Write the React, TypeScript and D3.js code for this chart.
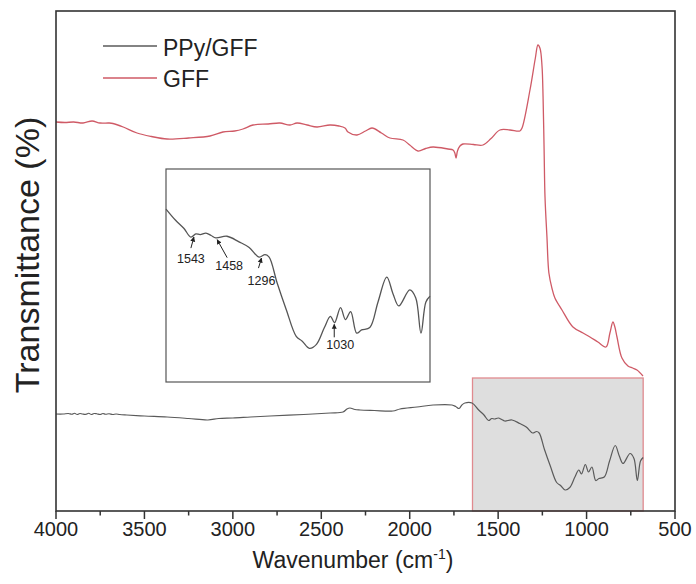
import React from "react";
import * as d3 from "d3";

// ---- data (wavenumber cm^-1, transmittance a.u.) ----
const gffData: [number, number][] = [
  [4000, 77.8], [3950, 77.7], [3900, 77.8], [3847, 77.6], [3796, 78.0], [3751, 77.6], [3700, 77.6],
  [3678, 77.5], [3620, 76.8], [3542, 75.6], [3460, 74.9], [3372, 74.4], [3250, 74.6], [3129, 75.0],
  [3056, 75.8], [2990, 76.0], [2943, 76.4], [2886, 77.2], [2800, 77.4], [2734, 77.6], [2677, 77.2],
  [2637, 77.6], [2580, 77.2], [2524, 76.8], [2451, 77.2], [2400, 77.0], [2366, 76.6], [2349, 75.8],
  [2298, 75.2], [2250, 76.0], [2213, 76.6], [2160, 75.6], [2112, 74.6], [2038, 74.2], [2000, 73.2],
  [1953, 72.0], [1910, 72.5], [1868, 72.8], [1784, 72.4], [1755, 72.2], [1745, 71.6], [1738, 70.6],
  [1730, 72.0], [1716, 73.0], [1699, 73.4], [1640, 73.3], [1586, 73.2], [1540, 74.5], [1490, 76.2],
  [1433, 76.2], [1377, 76.0], [1365, 76.6], [1320, 84.2], [1290, 90.5], [1275, 93.2], [1263, 92.5],
  [1252, 89.0], [1246, 82.8], [1240, 72.0], [1235, 62.8], [1224, 54.8], [1213, 47.6], [1196, 44.6],
  [1179, 42.6], [1139, 40.2], [1077, 36.8], [1020, 35.6], [981, 34.8], [936, 33.8], [890, 32.8],
  [868, 35.6], [851, 37.8], [840, 36.8], [828, 34.8], [800, 30.6], [766, 29.0], [740, 28.6],
  [715, 28.2], [681, 27.0],
];

const ppyData: [number, number][] = [
  [4000, 19.4], [3960, 19.4], [3930, 19.5], [3910, 19.35], [3895, 19.55], [3880, 19.3], [3865, 19.5],
  [3850, 19.4], [3830, 19.35], [3815, 19.55], [3800, 19.3], [3785, 19.5], [3770, 19.45], [3750, 19.3],
  [3735, 19.5], [3720, 19.35], [3700, 19.45], [3680, 19.3], [3660, 19.4], [3640, 19.3], [3600, 19.2],
  [3500, 19.0], [3372, 18.8], [3250, 18.5], [3141, 18.2], [3080, 18.5], [3000, 18.6], [2900, 18.8],
  [2790, 19.0], [2600, 19.3], [2450, 19.6], [2377, 19.8], [2355, 20.4], [2338, 20.6], [2310, 20.3],
  [2281, 20.2], [2200, 20.1], [2095, 20.0], [2055, 20.4], [1959, 20.8], [1868, 21.2], [1761, 21.2],
  [1740, 20.9], [1721, 20.5], [1705, 21.2], [1688, 21.6], [1648, 21.6], [1610, 20.2], [1580, 19.2],
  [1554, 18.1], [1536, 18.5], [1520, 18.4], [1499, 18.6], [1480, 18.3], [1463, 18.0], [1422, 18.2],
  [1378, 17.5], [1341, 16.8], [1305, 15.6], [1283, 15.9], [1268, 15.6], [1239, 12.4], [1205, 9.0],
  [1169, 5.7], [1147, 5.1], [1121, 4.2], [1095, 4.7], [1066, 6.8], [1044, 8.2], [1029, 7.4],
  [1007, 9.3], [989, 7.8], [970, 8.8], [948, 6.1], [930, 6.5], [900, 6.8], [870, 10.0], [838, 13.1],
  [815, 11.0], [794, 9.5], [754, 11.5], [732, 10.5], [713, 6.1], [695, 10.0], [680, 10.7],
];

const xTicks = [4000, 3500, 3000, 2500, 2000, 1500, 1000, 500];
const xMinorTicks = [3750, 3250, 2750, 2250, 1750, 1250, 750];
const zoomWn: [number, number] = [1645, 680];
const zoomT: [number, number] = [0, 26.6];
const annotLabels = ["1543", "1458", "1296", "1030"];
const annotWn = [1543, 1458, 1296, 1030];
const legendNames = ["PPy/GFF", "GFF"];

// ---- layout / style ----
const W = 696, H = 584;
const M = { left: 56, right: 675, top: 11, bottom: 511 };
const INSET = { left: 166, right: 430, top: 169, bottom: 382 };
const FONT = "Arial, 'Liberation Sans', Helvetica, sans-serif";
const RED = "#cf5a66";
const DARK = "#5a5a5a";
// label offsets relative to arrow tip: [tailDx, tailDy, textDx, textDy]
const annotOffsets = [
  [-3, 11, -3, 26],
  [10, 18, 12, 30],
  [-3, 10, 0, 27],
  [0, 13, 6, 25],
];

export default function App() {
  const x = d3.scaleLinear().domain([4000, 500]).range([M.left, M.right]);
  const y = d3.scaleLinear().domain([0, 100]).range([M.bottom, M.top]);
  const xi = d3.scaleLinear().domain(zoomWn).range([INSET.left, INSET.right]);
  const yi = d3.scaleLinear().domain(zoomT).range([INSET.bottom, INSET.top]);

  const line = d3
    .line<[number, number]>()
    .x((d) => x(d[0]))
    .y((d) => y(d[1]))
    .curve(d3.curveCatmullRom.alpha(0.5));
  const insetData = ppyData.filter((d) => d[0] <= zoomWn[0] + 5 && d[0] >= zoomWn[1]);
  const insetLine = d3
    .line<[number, number]>()
    .x((d) => xi(Math.min(d[0], zoomWn[0])))
    .y((d) => yi(d[1]))
    .curve(d3.curveCatmullRom.alpha(0.5));

  const interp = (wn: number) => {
    for (let i = 0; i < ppyData.length - 1; i++) {
      const a = ppyData[i], b = ppyData[i + 1];
      if (wn <= a[0] && wn >= b[0]) {
        const t = (a[0] - wn) / (a[0] - b[0]);
        return a[1] + t * (b[1] - a[1]);
      }
    }
    return 0;
  };

  return (
    <svg width={W} height={H} style={{ position: "absolute", left: 0, top: 0, background: "#fff" }} fontFamily={FONT}>
      <defs>
        <marker id="arr" viewBox="0 0 10 10" refX="9" refY="5" markerWidth="5" markerHeight="6" orient="auto">
          <path d="M0,0 L10,5 L0,10 z" fill="#222" />
        </marker>
      </defs>

      {/* shaded zoom region */}
      <rect
        x={x(zoomWn[0])}
        y={y(zoomT[1])}
        width={x(zoomWn[1]) - x(zoomWn[0])}
        height={y(zoomT[0]) - y(zoomT[1])}
        fill="#dedede"
        stroke="#e08a8f"
        strokeWidth={1.3}
      />

      {/* spectra */}
      <path d={line(gffData) || ""} fill="none" stroke={RED} strokeWidth={1.3} />
      <path d={line(ppyData) || ""} fill="none" stroke={DARK} strokeWidth={1.2} />

      {/* inset */}
      <rect
        x={INSET.left}
        y={INSET.top}
        width={INSET.right - INSET.left}
        height={INSET.bottom - INSET.top}
        fill="#fff"
        stroke="#555"
        strokeWidth={1.2}
      />
      <path d={insetLine(insetData) || ""} fill="none" stroke="#555" strokeWidth={1.3} />
      {annotLabels.map((lab, i) => {
        const tx = xi(annotWn[i]);
        const ty = yi(interp(annotWn[i])) + 2;
        const o = annotOffsets[i];
        return (
          <g key={lab}>
            <line x1={tx + o[0]} y1={ty + o[1]} x2={tx} y2={ty} stroke="#222" strokeWidth={1} markerEnd="url(#arr)" />
            <text x={tx + o[2]} y={ty + o[3]} fontSize={12.5} textAnchor="middle" fill="#222">
              {lab}
            </text>
          </g>
        );
      })}

      {/* frame */}
      <rect
        x={M.left}
        y={M.top}
        width={M.right - M.left}
        height={M.bottom - M.top}
        fill="none"
        stroke="#333"
        strokeWidth={1.6}
      />

      {/* x ticks */}
      {xTicks.map((t) => (
        <g key={t}>
          <line x1={x(t)} x2={x(t)} y1={M.bottom} y2={M.bottom + 8} stroke="#333" strokeWidth={1.5} />
          <text x={x(t)} y={536} fontSize={20} textAnchor="middle" fill="#222">
            {t}
          </text>
        </g>
      ))}
      {xMinorTicks.map((t) => (
        <line key={t} x1={x(t)} x2={x(t)} y1={M.bottom} y2={M.bottom + 4.5} stroke="#333" strokeWidth={1.5} />
      ))}

      {/* axis titles */}
      <text x={353} y={568} fontSize={23} textAnchor="middle" fill="#222">
        Wavenumber (cm<tspan fontSize={14} dy={-9}>-1</tspan>
        <tspan dy={9}>)</tspan>
      </text>
      <text transform="translate(39,255) rotate(-90)" fontSize={34} textAnchor="middle" fill="#222">
        Transmittance (%)
      </text>

      {/* legend */}
      {legendNames.map((n, i) => (
        <g key={n}>
          <line x1={103} x2={157} y1={46 + i * 32} y2={46 + i * 32} stroke={i === 0 ? DARK : RED} strokeWidth={1.3} />
          <text x={163} y={56 + i * 31} fontSize={23} fill="#222">
            {n}
          </text>
        </g>
      ))}
    </svg>
  );
}
